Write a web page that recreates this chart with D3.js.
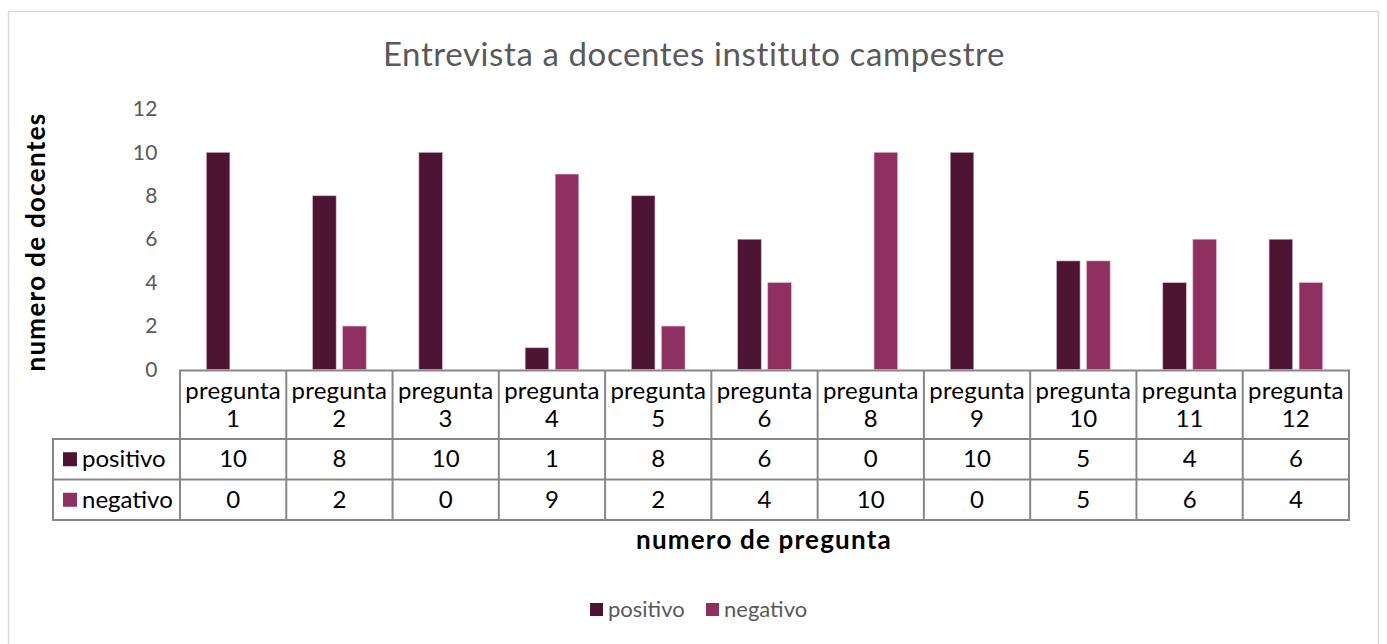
<!DOCTYPE html>
<html><head><meta charset="utf-8">
<script src="https://cdn.jsdelivr.net/npm/d3@7"></script>
<style>body{margin:0;background:#fff;} svg{display:block;}</style>
</head><body>
<svg id="chart" width="1387" height="644"></svg>
<script>
const categories = ["pregunta 1","pregunta 2","pregunta 3","pregunta 4","pregunta 5","pregunta 6","pregunta 8","pregunta 9","pregunta 10","pregunta 11","pregunta 12"];
const series = ["positivo","negativo"];
const positivo = [10,8,10,1,8,6,0,10,5,4,6];
const negativo = [0,2,0,9,2,4,10,0,5,6,4];
const yTicks = [0,2,4,6,8,10,12];
const colors = {positivo:"#4e1434", negativo:"#8f3060"};
const title = "Entrevista a docentes instituto campestre";
const yTitle = "numero de docentes";
const xTitle = "numero de pregunta";

const values = {positivo, negativo};
const FONT = "Lato, 'Open Sans', sans-serif";
const svg = d3.select("#chart");

// frame
svg.append("rect").attr("x",8.5).attr("y",11.5).attr("width",1370).attr("height",660)
  .attr("fill","#fff").attr("stroke","#d9d9d9").attr("stroke-width",1.5);

const pLeft=180, pRight=1349, pTop=108.9, pBottom=369.5;
const x = d3.scaleBand().domain(categories).range([pLeft,pRight]).padding(0);
const y = d3.scaleLinear().domain([0,12]).range([pBottom, pTop]);
const cw = x.bandwidth();
const xs = d3.scaleBand().domain(series).range([-26.8,26.8]).paddingInner(0.217);

// title
svg.append("text").attr("x",694).attr("y",66).attr("text-anchor","middle")
  .attr("font-family",FONT).attr("font-size",33).attr("letter-spacing",0.6)
  .attr("fill","#595959").text(title);

// y axis ticks (labels only)
const yAxis = d3.axisLeft(y).tickValues(yTicks).tickSize(0).tickPadding(0);
const ya = svg.append("g").attr("transform",`translate(158,0)`).call(yAxis);
ya.select(".domain").remove();
ya.selectAll("text").attr("font-family",FONT).attr("font-size",21).attr("letter-spacing",0.5).attr("fill","#595959");

// y title
svg.append("text").attr("transform",`translate(45,${242}) rotate(-90)`).attr("text-anchor","middle")
  .attr("font-family",FONT).attr("font-size",26).attr("font-weight","bold").attr("letter-spacing",1.3)
  .attr("fill","#000").text(yTitle);

// bars
series.forEach(s=>{
  svg.append("g").selectAll("rect").data(categories).join("rect")
    .attr("x",(d)=>x(d)+cw/2+xs(s))
    .attr("width",xs.bandwidth())
    .attr("y",(d,i)=>y(values[s][i]))
    .attr("height",(d,i)=>pBottom-y(values[s][i]))
    .attr("fill",colors[s])
    .attr("stroke",(d,i)=>values[s][i]>0?"#d9b8c8":"none").attr("stroke-width",0.6);
});

// data table
const lineColor = "#878787", lw = 2;
const r0=370.5, r1=439, r2=479.5, r3=520;
const tleft = 53;
const g = svg.append("g").attr("stroke",lineColor).attr("stroke-width",lw);
g.append("line").attr("x1",pLeft-1).attr("x2",pRight+1).attr("y1",r0).attr("y2",r0);
[r1,r2,r3].forEach(r=>g.append("line").attr("x1",tleft-1).attr("x2",pRight+1).attr("y1",r).attr("y2",r));
const bounds = categories.map(c=>x(c)).concat([pRight]);
bounds.forEach(b=>g.append("line").attr("x1",b).attr("x2",b).attr("y1",r0).attr("y2",r3));
g.append("line").attr("x1",tleft).attr("x2",tleft).attr("y1",r1).attr("y2",r3);

// header labels
categories.forEach(c=>{
  const parts = c.split(" ");
  const t = svg.append("text").attr("text-anchor","middle").attr("font-family",FONT)
    .attr("font-size",24).attr("letter-spacing",0.2).attr("fill","#000");
  t.append("tspan").attr("x",x(c)+cw/2).attr("y",399).text(parts[0]);
  t.append("tspan").attr("x",x(c)+cw/2).attr("y",427).text(parts[1]);
});

// rows
series.forEach((s,si)=>{
  const ry = si===0 ? (r1+r2)/2 : (r2+r3)/2;
  svg.append("rect").attr("x",63).attr("y",ry-7).attr("width",14).attr("height",14).attr("fill",colors[s]);
  svg.append("text").attr("x",82).attr("y",ry+8).attr("font-family",FONT).attr("font-size",24)
    .attr("fill","#000").text(s);
  svg.append("g").selectAll("text").data(categories).join("text")
    .attr("x",d=>x(d)+cw/2).attr("y",ry+8).attr("text-anchor","middle")
    .attr("font-family",FONT).attr("font-size",24).attr("fill","#000")
    .text((d,i)=>values[s][i]);
});

// x title
svg.append("text").attr("x",764).attr("y",549).attr("text-anchor","middle")
  .attr("font-family",FONT).attr("font-size",26).attr("font-weight","bold").attr("letter-spacing",1.2)
  .attr("fill","#000").text(xTitle);

// legend
const legX = [590, 706];
series.forEach((s,i)=>{
  svg.append("rect").attr("x",legX[i]).attr("y",603).attr("width",13).attr("height",13).attr("fill",colors[s]);
  svg.append("text").attr("x",legX[i]+18).attr("y",617).attr("font-family",FONT).attr("font-size",22)
    .attr("fill","#595959").text(s);
});
</script>
</body></html>
